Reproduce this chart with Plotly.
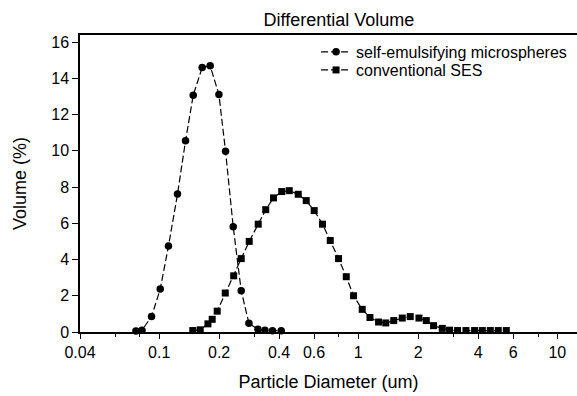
import plotly.graph_objects as go
import math

# Self-emulsifying microspheres (circles)
micro_d = [0.0764, 0.0819, 0.0915, 0.1012, 0.1113, 0.1236, 0.1356, 0.1482, 0.1644,
           0.1803, 0.1995, 0.2154, 0.2354, 0.2582, 0.2823, 0.3133, 0.3398, 0.3709, 0.4102]
micro_v = [0.05, 0.1, 0.85, 2.37, 4.74, 7.61, 10.55, 13.06, 14.6,
           14.69, 13.11, 9.97, 5.81, 2.28, 0.48, 0.15, 0.1, 0.07, 0.07]

# Conventional SES (squares)
ses_d = [0.1474, 0.1607, 0.1757, 0.1846, 0.1956, 0.2147, 0.2367, 0.2583, 0.2833, 0.3144,
         0.3429, 0.3753, 0.4126, 0.4500, 0.4994, 0.5478, 0.6008, 0.6615, 0.7233, 0.7961,
         0.8705, 0.9471, 1.047, 1.145, 1.265, 1.375, 1.508, 1.664, 1.825, 2.018,
         2.197, 2.390, 2.643, 2.876, 3.155, 3.477, 3.841, 4.200, 4.606, 5.051, 5.543]
ses_v = [0.08, 0.12, 0.45, 0.7, 1.15, 2.15, 3.1, 4.05, 5.0, 5.95,
         6.75, 7.4, 7.75, 7.8, 7.6, 7.25, 6.7, 5.95, 5.05, 4.05,
         3.05, 2.0, 1.25, 0.8, 0.55, 0.5, 0.63, 0.77, 0.85, 0.77,
         0.63, 0.35, 0.2, 0.1, 0.08, 0.08, 0.08, 0.08, 0.08, 0.08, 0.08]

x_ticks = [0.04, 0.1, 0.2, 0.4, 0.6, 1, 2, 4, 6, 10]
x_ticktext = ["0.04", "0.1", "0.2", "0.4", "0.6", "1", "2", "4", "6", "10"]
x_minor = [0.06, 0.08, 0.3, 0.8, 3, 8]
y_ticks = [0, 2, 4, 6, 8, 10, 12, 14, 16]

FONT = "Liberation Sans, Arial, Helvetica, sans-serif"

fig = go.Figure()
fig.add_trace(go.Scatter(
    x=micro_d, y=micro_v, mode="lines+markers", name="self-emulsifying microspheres",
    line=dict(color="black", width=1.2, dash="7px,3px"),
    marker=dict(symbol="circle", size=7.5, color="black"),
    cliponaxis=False, legend="legend"))
fig.add_trace(go.Scatter(
    x=ses_d, y=ses_v, mode="lines+markers", name="conventional SES",
    line=dict(color="black", width=1.2, dash="7px,3px"),
    marker=dict(symbol="square", size=7, color="black"),
    cliponaxis=False, legend="legend2"))

leg_common = dict(x=0.475, xanchor="left", yanchor="middle", bgcolor="rgba(0,0,0,0)",
                  font=dict(size=16, family=FONT, color="black"), itemwidth=30, borderwidth=0)

fig.update_layout(
    width=577, height=396,
    margin=dict(l=80, r=0, t=35, b=64, autoexpand=False),
    paper_bgcolor="white", plot_bgcolor="white",
    font=dict(family=FONT, color="black", size=16),
    title=dict(text="Differential Volume", x=0.5875, xanchor="center", y=0.949, yanchor="middle",
               font=dict(size=18, family=FONT, color="black")),
    showlegend=True,
    hovermode=False,
    legend=dict(y=0.943, **leg_common),
    legend2=dict(y=0.882, **leg_common),
    xaxis=dict(
        type="log", range=[math.log10(0.04), 1.099], automargin=False,
        tickmode="array", tickvals=x_ticks, ticktext=x_ticktext,
        ticks="outside", ticklen=5, tickwidth=1, tickcolor="black",
        minor=dict(tickmode="array", tickvals=x_minor, ticks="outside", ticklen=3, tickcolor="black", showgrid=False),
        showline=True, linecolor="black", linewidth=1.5, mirror=True,
        showgrid=False, zeroline=False,
        title=dict(text="Particle Diameter (um)", font=dict(size=18), standoff=15),
        tickfont=dict(size=16),
    ),
    yaxis=dict(
        range=[0, 16.39], tickmode="array", tickvals=y_ticks, automargin=False,
        ticks="outside", ticklen=6, tickwidth=1, tickcolor="black",
        showline=True, linecolor="black", linewidth=1.5, mirror=False,
        showgrid=False, zeroline=False,
        title=dict(text="Volume (%)", font=dict(size=18), standoff=20),
        tickfont=dict(size=16),
    ),
)

fig.write_html("out.html", config={"displayModeBar": False},
               post_script="document.body.style.margin='0px';document.body.style.padding='0px';document.body.style.overflow='hidden';")
